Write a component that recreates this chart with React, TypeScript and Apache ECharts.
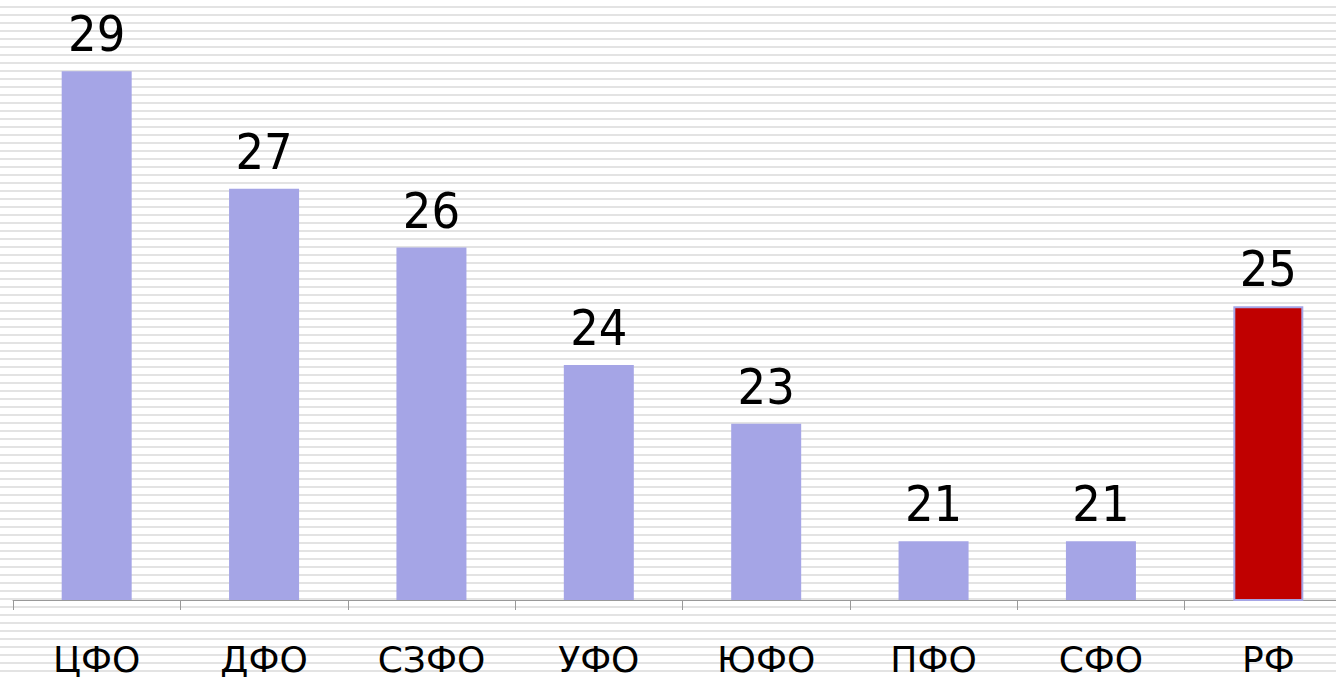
import React, { useEffect, useRef } from "react";
import * as echarts from "echarts";

const categories = ["ЦФО", "ДФО", "СЗФО", "УФО", "ЮФО", "ПФО", "СФО", "РФ"];
const values = [29, 27, 26, 24, 23, 21, 21, 25];
const highlightCategory = "РФ";

const BAR_COLOR = "#a5a5e6";
const HIGHLIGHT_COLOR = "#c00000";

export default function App() {
  const ref = useRef<HTMLDivElement>(null);

  useEffect(() => {
    document.body.style.margin = "0";
    const chart = echarts.init(ref.current!, null, { renderer: "svg" });
    chart.setOption({
      animation: false,
      grid: { left: 13, right: 0, top: 12.5, bottom: 77 },
      xAxis: {
        type: "category",
        data: categories,
        axisLine: { show: true, lineStyle: { color: "#999999", width: 1 } },
        axisTick: { show: true, length: 10, lineStyle: { color: "#999999" } },
        axisLabel: {
          color: "#000",
          fontSize: 36,
          fontFamily: "DejaVu Sans",
          margin: 41,
        },
      },
      yAxis: {
        type: "value",
        min: 20,
        max: 30,
        show: false,
        splitLine: { show: false },
      },
      series: [
        {
          type: "bar",
          barWidth: 70,
          data: values.map((v, i) => {
            const hi = categories[i] === highlightCategory;
            return {
              value: v,
              itemStyle: hi
                ? { color: HIGHLIGHT_COLOR, borderColor: BAR_COLOR, borderWidth: 2 }
                : { color: BAR_COLOR },
            };
          }),
          label: {
            show: true,
            position: "top",
            distance: 12,
            color: "#000",
            fontSize: 50,
            fontFamily: "'DejaVu Sans Condensed', 'DejaVu Sans'",
          },
        },
      ],
    });
    return () => chart.dispose();
  }, []);

  return (
    <div
      style={{
        position: "absolute",
        left: 0,
        top: 0,
        width: 1336,
        height: 677,
        overflow: "hidden",
        background:
          "repeating-linear-gradient(to bottom, #ffffff 0px, #ffffff 6px, #e3e3e3 6px, #e3e3e3 8px)",
      }}
    >
      <div ref={ref} style={{ width: 1352, height: 677 }} />
    </div>
  );
}
